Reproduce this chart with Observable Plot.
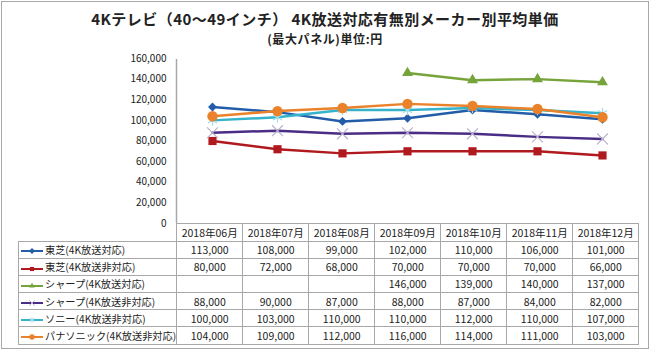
<!DOCTYPE html>
<html><head><meta charset="utf-8">
<script src="https://cdn.jsdelivr.net/npm/d3@7"></script>
<script src="https://cdn.jsdelivr.net/npm/@observablehq/plot@0.6"></script>
<style>
body{margin:0;width:650px;height:352px;position:relative;background:#fff;font-family:"Noto Sans CJK JP","Noto Sans",sans-serif;color:#222;}
#border{position:absolute;left:1px;top:1px;width:648px;height:348px;box-sizing:border-box;border:1.5px solid #a8a8a8;}
#title{position:absolute;left:0;width:650px;top:10px;text-align:center;font-weight:bold;font-size:15px;line-height:18px;letter-spacing:0.45px;}
#subtitle{position:absolute;left:0;width:650px;top:31px;text-align:center;font-weight:bold;font-size:12px;line-height:16px;letter-spacing:0.6px;}
#chart{position:absolute;left:0;top:0;}
#tbl{position:absolute;left:18px;top:223px;border-collapse:collapse;table-layout:fixed;font-size:10.5px;}
#tbl td{border:1px solid #a8a8a8;padding:0;text-align:center;white-space:nowrap;overflow:hidden;}
#tbl tr.head td{height:16.5px;}
#tbl tr.row td{height:16.2px;}
#tbl td.blank{border:none;border-right:1px solid #a8a8a8;}
#tbl td.leg{text-align:left;font-size:10.2px;}
#tbl td.leg svg{vertical-align:middle;margin:0 1px 0 1px;}
</style></head>
<body>
<div id="border"></div>
<div id="title">4Kテレビ（40～49インチ） 4K放送対応有無別メーカー別平均単価</div>
<div id="subtitle">(最大パネル)単位:円</div>
<div id="chart"></div>
<table id="tbl"></table>
<script>
const months = ["2018年06月","2018年07月","2018年08月","2018年09月","2018年10月","2018年11月","2018年12月"];
const seriesNames = ["東芝(4K放送対応)","東芝(4K放送非対応)","シャープ(4K放送対応)","シャープ(4K放送非対応)","ソニー(4K放送非対応)","パナソニック(4K放送非対応)"];
const toshiba4k    = [113000,108000,99000,102000,110000,106000,101000];
const toshibaNon   = [80000,72000,68000,70000,70000,70000,66000];
const sharp4k      = [null,null,null,146000,139000,140000,137000];
const sharpNon     = [88000,90000,87000,88000,87000,84000,82000];
const sonyNon      = [100000,103000,110000,110000,112000,110000,107000];
const panasonicNon = [104000,109000,112000,116000,114000,111000,103000];
const yTicks = [0,20000,40000,60000,80000,100000,120000,140000,160000];

const seriesValues = [toshiba4k,toshibaNon,sharp4k,sharpNon,sonyNon,panasonicNon];
const styles = [
  {color:"#235DA9", symbol:"diamond2", r:4, fill:"#235DA9", stroke:"none"},
  {color:"#B0191E", symbol:"square2", r:5.2, fill:"#B0191E", stroke:"none"},
  {color:"#76A33A", symbol:"triangle2", r:5.2, fill:"#76A33A", stroke:"none"},
  {color:"#4A2D86", symbol:"times", r:5, fill:"none", stroke:"#B9B2CF"},
  {color:"#35B3CB", symbol:"asterisk", r:5, fill:"none", stroke:"#A3DDE9"},
  {color:"#E9822A", symbol:"circle", r:5.2, fill:"#E9822A", stroke:"none"}
];

const data = seriesNames.flatMap((s,i) => months.map((m,j) => ({series:s, idx:i, month:m, value:seriesValues[i][j]}))).filter(d => d.value != null);

const axisLine = (index, scales, values, dims) => {
  const g = d3.create("svg:line")
    .attr("x1", dims.marginLeft + 0.5).attr("x2", dims.marginLeft + 0.5)
    .attr("y1", dims.marginTop + 1).attr("y2", dims.height - dims.marginBottom)
    .attr("stroke", "#a8a8a8").attr("stroke-width", 1.5);
  return g.node();
};

const marks = [axisLine,
  Plot.axisY({ticks: yTicks, tickFormat: d3.format(","), tickSize: 0, tickPadding: 10, label: null, fontSize: 10})];
seriesNames.forEach((s,i) => {
  const st = styles[i];
  marks.push(Plot.line(data.filter(d => d.idx === i), {x:"month", y:"value", stroke: st.color, strokeWidth: 2.5}));
});
seriesNames.forEach((s,i) => {
  const st = styles[i];
  marks.push(Plot.dot(data.filter(d => d.idx === i), {x:"month", y:"value", symbol: () => st.symbol, r: st.r, fill: st.fill, stroke: st.stroke, strokeWidth: 1.2}));
});

const chart = Plot.plot({
  width: 650, height: 233,
  marginLeft: 176, marginRight: 13, marginTop: 58, marginBottom: 10,
  x: {type: "point", domain: months, padding: 0.5, axis: null},
  y: {domain: [0,160000], axis: null},
  symbol: {type: "identity"},
  style: {fontFamily: '"Noto Sans CJK JP","Noto Sans",sans-serif', fontSize: "10px", color: "#222", background: "transparent"},
  marks
});
document.getElementById("chart").appendChild(chart);

// data table with legend keys
const tbl = d3.select("#tbl");
const colg = tbl.append("colgroup");
colg.append("col").style("width","158px");
months.forEach(() => colg.append("col").style("width","66px"));
const head = tbl.append("tr").attr("class","head");
head.append("td").attr("class","blank");
months.forEach(m => head.append("td").text(m));
const fmt = d3.format(",");
seriesNames.forEach((s,i) => {
  const st = styles[i];
  const tr = tbl.append("tr").attr("class","row");
  const td = tr.append("td").attr("class","leg");
  const svg = td.append("svg").attr("width",24).attr("height",10);
  svg.append("line").attr("x1",1).attr("x2",23).attr("y1",5).attr("y2",5).attr("stroke",st.color).attr("stroke-width",2);
  const sym = {diamond2:d3.symbolDiamond2, square2:d3.symbolSquare2, triangle2:d3.symbolTriangle2, times:d3.symbolTimes, asterisk:d3.symbolAsterisk, circle:d3.symbolCircle}[st.symbol];
  svg.append("path").attr("transform","translate(12,5)").attr("d", d3.symbol(sym, 22)())
    .attr("fill", st.fill).attr("stroke", st.stroke === "none" ? "none" : st.stroke).attr("stroke-width",1);
  td.append("span").text(s);
  seriesValues[i].forEach(v => tr.append("td").text(v == null ? "" : fmt(v)));
});
</script>
</body></html>
